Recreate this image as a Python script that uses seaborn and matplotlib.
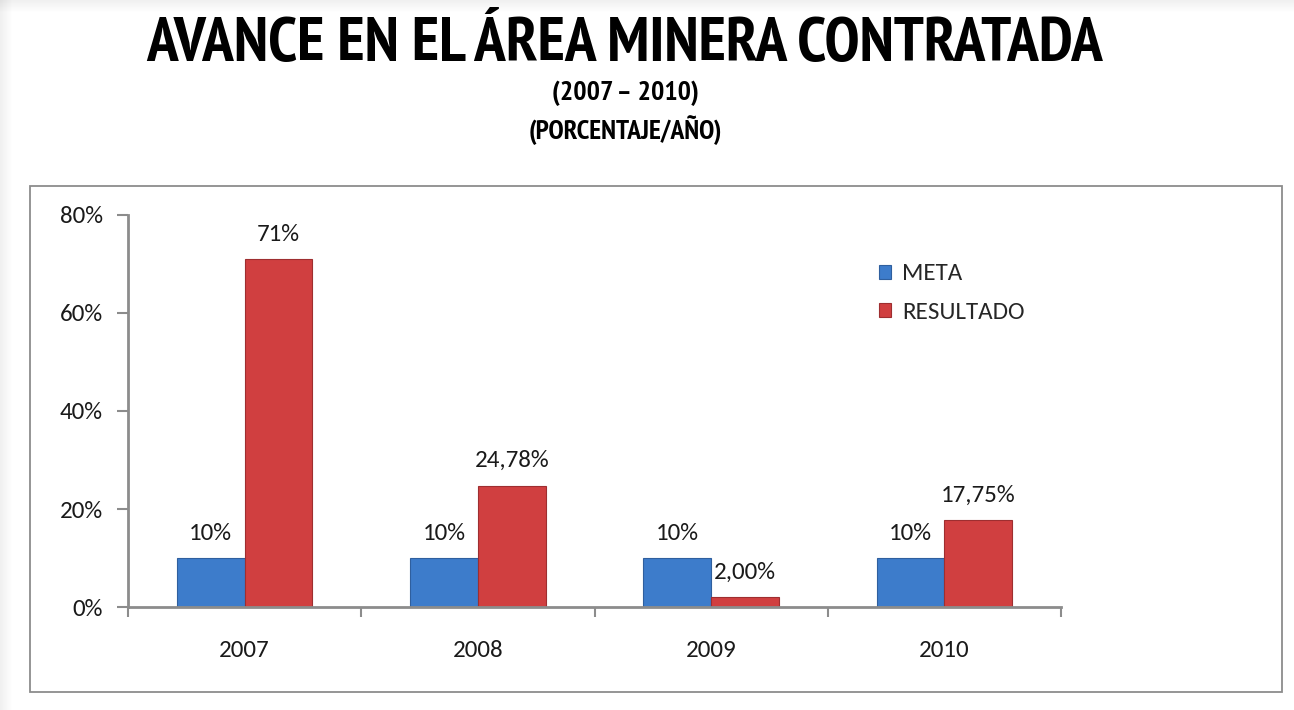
import matplotlib
matplotlib.use('Agg')

import matplotlib.pyplot as plt
import matplotlib.patches as mpatches
from matplotlib import font_manager
from matplotlib.ticker import FuncFormatter, FixedLocator
import seaborn as sns
import pandas as pd

# ── Data ───────────────────────────────────────────────────────────────────
years = ['2007', '2008', '2009', '2010']
meta = [10, 10, 10, 10]
resultado = [71, 24.78, 2.00, 17.75]
meta_labels = ['10%', '10%', '10%', '10%']
resultado_labels = ['71%', '24,78%', '2,00%', '17,75%']
series = ['META', 'RESULTADO']
colors = ['#3D7CCB', '#D03F40']
edges = ['#2F5F9E', '#9E2E30']

df = pd.DataFrame({
    'year': years * 2,
    'serie': ['META'] * 4 + ['RESULTADO'] * 4,
    'value': meta + resultado,
})


def first_bold(cands):
    # first narrow family that really ships a bold face
    for c in cands:
        for f in font_manager.fontManager.ttflist:
            if f.name == c and isinstance(f.weight, int) and f.weight >= 700:
                return [c, 'DejaVu Sans']
            if f.name == c and f.weight in ('bold', 'heavy', 'black'):
                return [c, 'DejaVu Sans']
    return ['Liberation Sans', 'DejaVu Sans']


sns.set_style('white')
body_font = ['Carlito', 'Calibri', 'Lato', 'DejaVu Sans']
title_font = first_bold(['Liberation Sans Narrow', 'Arial Narrow',
                         'Archivo Narrow', 'PT Sans Narrow',
                         'Roboto Condensed', 'IBM Plex Sans Condensed',
                         'Fira Sans Condensed', 'Asap Condensed',
                         'Encode Sans Condensed', 'Barlow Semi Condensed'])
plt.rcParams['font.family'] = body_font

W, H = 1294, 710
FS = 18
fig = plt.figure(figsize=(W / 100, H / 100), dpi=100)
fig.patch.set_facecolor('white')

# slide shadow on the top and left edges
for i in range(12):
    a = 0.06 * (1 - i / 12)
    fig.add_artist(mpatches.Rectangle((i / W, 0), 1 / W, 1,
                   transform=fig.transFigure, color='black', alpha=a, lw=0))
    fig.add_artist(mpatches.Rectangle((0, 1 - (i + 1) / H), 1, 1 / H,
                   transform=fig.transFigure, color='black', alpha=a, lw=0))

# chart box
fig.add_artist(mpatches.Rectangle((30 / W, 1 - 692 / H), 1252 / W, 506 / H,
               transform=fig.transFigure, fill=False,
               edgecolor='#8c8c8c', lw=1.3))

# titles, sized to the reference widths
renderer = fig.canvas.get_renderer()
titles = [
    ('AVANCE EN EL ÁREA MINERA CONTRATADA', 45, 954, 40),
    ('(2007 – 2010)', 93, 147, 17),
    ('(PORCENTAJE/AÑO)', 130, 193, 17),
]
for txt, yc, width_px, size in titles:
    t = fig.text(625 / W, 1 - yc / H, txt, ha='center', va='center',
                 fontsize=size, fontweight='bold', family=title_font,
                 color='black')
    w = t.get_window_extent(renderer).width
    t.set_fontsize(size * width_px / w)

ax = fig.add_axes([128 / W, 1 - 607 / H, 933 / W, 392 / H])

sns.barplot(
    data=df, x='year', y='value', hue='serie',
    hue_order=series, palette=colors, saturation=1, width=0.58,
    linewidth=0.8, ax=ax, legend=False
)
for cont, ec in zip(ax.containers, edges):
    for bar in cont:
        bar.set_edgecolor(ec)

ax.set_xlim(-0.5, 3.5)
ax.set_ylim(0, 80)
ax.set_yticks([0, 20, 40, 60, 80])
ax.yaxis.set_major_formatter(FuncFormatter(lambda v, p: f'{v:.0f}%'))
ax.xaxis.set_minor_locator(FixedLocator([-0.5, 0.5, 1.5, 2.5, 3.5]))
ax.tick_params(axis='x', which='major', length=0, pad=24, labelsize=FS,
               labelcolor='#1a1a1a')
ax.tick_params(axis='x', which='minor', length=7, direction='out',
               color='#8c8c8c', width=1.5, bottom=True)
ax.tick_params(axis='y', length=8, direction='out', color='#8c8c8c',
               width=1.5, left=True, labelsize=FS, labelcolor='#1a1a1a',
               pad=10)
ax.set_xlabel('')
ax.set_ylabel('')
for s in ['top', 'right']:
    ax.spines[s].set_visible(False)
for s in ['left', 'bottom']:
    ax.spines[s].set_color('#8c8c8c')
    ax.spines[s].set_linewidth(2)

# value labels
for cont, labels in zip(ax.containers, [meta_labels, resultado_labels]):
    for bar, lab in zip(cont, labels):
        ax.annotate(lab, (bar.get_x() + bar.get_width() / 2, bar.get_height()),
                    xytext=(0, 18), textcoords='offset points',
                    ha='center', va='center', fontsize=FS, color='#1a1a1a')

# legend
handles = [mpatches.Patch(facecolor=c, edgecolor=e, lw=0.8)
           for c, e in zip(colors, edges)]
fig.legend(handles, series, loc='upper left',
           bbox_to_anchor=(856 / W, 1 - 241 / H), frameon=False,
           fontsize=FS, handlelength=0.5, handleheight=0.5,
           handletextpad=0.45, labelspacing=0.7)

fig.savefig('out.png', dpi=100)
